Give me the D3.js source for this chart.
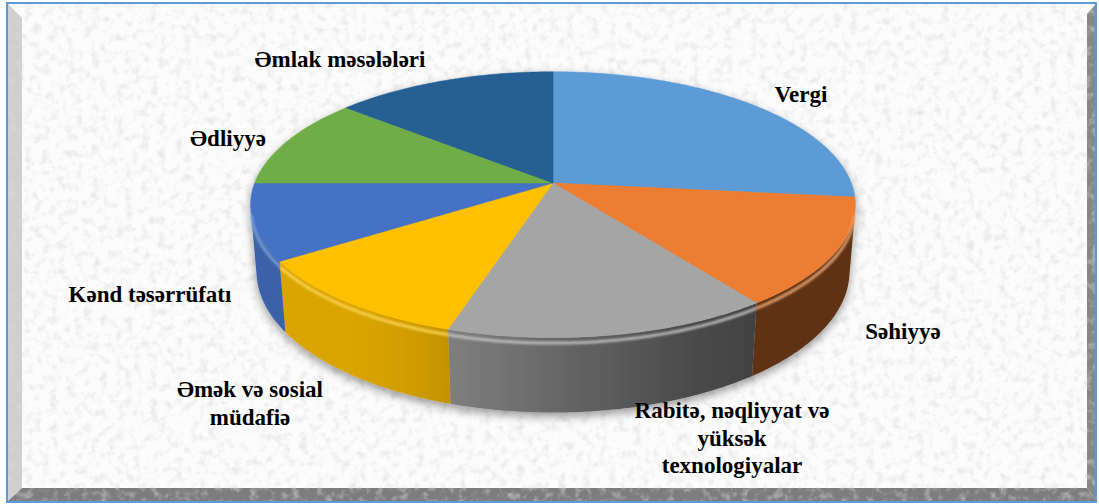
<!DOCTYPE html>
<html>
<head>
<meta charset="utf-8">
<script src="https://cdn.jsdelivr.net/npm/d3@7"></script>
<style>
  body { margin: 0; background: #fff; }
</style>
</head>
<body>
<svg id="chart" width="1099" height="504"></svg>
<script>
// chart data (share of appeals by topic)
const categories = ["Vergi", "Səhiyyə", "Rabitə, nəqliyyat və yüksək texnologiyalar",
    "Əmək və sosial müdafiə", "Kənd təsərrüfatı", "Ədliyyə", "Əmlak məsələləri"];
const values = [26.7, 13.2, 14.9, 10.9, 9.3, 11.1, 13.9];
const colors = ["#5B9BD5", "#ED7D31", "#A5A5A5", "#FFC000", "#4472C4", "#70AD47", "#255E91"];
const labelLines = [["Vergi"], ["Səhiyyə"], ["Rabitə, nəqliyyat və", "yüksək", "texnologiyalar"],
    ["Əmək və sosial", "müdafiə"], ["Kənd təsərrüfatı"], ["Ədliyyə"], ["Əmlak məsələləri"]];

// label anchors (layout only)
const labelPos = [[801, 102], [903, 339], [732, 418], [250, 397], [150, 302], [228, 146], [340, 67]];

const svg = d3.select("#chart");
const defs = svg.append("defs");

// paper texture
let tex = defs.append("filter").attr("id", "tex")
    .attr("x", 0).attr("y", 0).attr("width", "100%").attr("height", "100%");
tex.append("feTurbulence").attr("type", "fractalNoise").attr("baseFrequency", "0.12")
    .attr("numOctaves", 3).attr("seed", 4).attr("result", "n");
tex.append("feColorMatrix").attr("in", "n").attr("type", "matrix")
    .attr("values", "0 0 0 0 0.7  0 0 0 0 0.7  0 0 0 0 0.7  1.5 0 0 0 -0.72");

let shadow = defs.append("filter").attr("id", "shadow")
    .attr("x", "-10%").attr("y", "-10%").attr("width", "120%").attr("height", "130%");
shadow.append("feDropShadow").attr("dx", 0).attr("dy", 4).attr("stdDeviation", 5)
    .attr("flood-color", "#000").attr("flood-opacity", 0.4);

let blur = defs.append("filter").attr("id", "soft");
blur.append("feGaussianBlur").attr("stdDeviation", 1.2);

// frame with bevel
svg.append("rect").attr("x", 7).attr("y", 3).attr("width", 1089).attr("height", 499).attr("fill", "#fcfcfc");
svg.append("polygon").attr("points", "8,4 22,18 22,488 8,501").attr("fill", "#cfcfcf");
svg.append("polygon").attr("points", "8,501 22,488 1087,488 1096,501").attr("fill", "#7d7d7d");
svg.append("polygon").attr("points", "1096,4 1087,14 1087,488 1096,501").attr("fill", "#878787");
svg.append("rect").attr("x", 7).attr("y", 3).attr("width", 1089).attr("height", 499)
    .attr("filter", "url(#tex)");
svg.append("rect").attr("x", 7).attr("y", 3).attr("width", 1089).attr("height", 499)
    .attr("fill", "none").attr("stroke", "#5B9BD5").attr("stroke-width", 2);

// perspective projection of the pie disk
const cx = 553, cy = 183;
const sinE = 0.4337, cosE = Math.sqrt(1 - sinE * sinE);
const D = 5.53, F = 1650, depthH = 0.25;

function project(theta, z) {
    let x = Math.sin(theta), y = Math.cos(theta);
    let depth = y * cosE - z * sinE + D;
    return [cx + F * x / depth, cy - F * (y * sinE + z * cosE) / depth];
}

function arcPoints(a0, a1, z) {
    let n = Math.max(2, Math.ceil(Math.abs(a1 - a0) / (Math.PI / 360)));
    return d3.range(n + 1).map(i => project(a0 + (a1 - a0) * i / n, z));
}

// side shading: darker towards the right
function shade(theta) {
    let deg = theta * 180 / Math.PI;
    let t = Math.max(0, Math.min(1, (deg - 140) / 80));
    t = t * t * (3 - 2 * t);
    return 0.4 + 0.46 * t;
}

const pie = d3.pie().sort(null).value(d => d)(values);
const line = d3.line();
const g = svg.append("g").attr("filter", "url(#shadow)");

// visible part of the outer wall
const vis = Math.acos(-1 / (D * cosE));
const wMin = vis, wMax = 2 * Math.PI - vis;

pie.forEach((s, i) => {
    let t0 = Math.max(s.startAngle, wMin), t1 = Math.min(s.endAngle, wMax);
    if (t1 <= t0) return;
    let top = arcPoints(t0, t1, 0);
    let bot = arcPoints(t1, t0, -depthH);
    let xa = top[0][0], xb = top[top.length - 1][0];
    let grad = defs.append("linearGradient").attr("id", "side" + i)
        .attr("gradientUnits", "userSpaceOnUse")
        .attr("x1", xa).attr("x2", xb).attr("y1", 0).attr("y2", 0);
    d3.range(11).forEach(k => {
        let th = t0 + (t1 - t0) * k / 10;
        let px = project(th, 0)[0];
        let c = d3.rgb(colors[i]);
        let f = shade(th);
        grad.append("stop").attr("offset", (px - xa) / (xb - xa))
            .attr("stop-color", d3.rgb(c.r * f, c.g * f, c.b * f));
    });
    g.append("path").attr("d", line(top.concat(bot)) + "Z")
        .attr("fill", "url(#side" + i + ")");
});

// top faces
pie.forEach((s, i) => {
    let pts = [[cx, cy]].concat(arcPoints(s.startAngle, s.endAngle, 0));
    g.append("path").attr("d", line(pts) + "Z")
        .attr("fill", colors[i]).attr("stroke", colors[i]).attr("stroke-width", 0.5);
});

// rounded rim highlight on the front edge
pie.forEach((s, i) => {
    let t0 = Math.max(s.startAngle, wMin), t1 = Math.min(s.endAngle, wMax);
    if (t1 <= t0) return;
    g.append("path").attr("d", line(arcPoints(t0, t1, -0.018)))
        .attr("fill", "none").attr("filter", "url(#soft)")
        .attr("stroke", d3.interpolateRgb(colors[i], "#fff")(0.35))
        .attr("stroke-width", 3).attr("stroke-opacity", 0.85);
});

// labels
const lh = 27.5;
labelLines.forEach((lines, i) => {
    let t = svg.append("text").attr("text-anchor", "middle")
        .attr("font-family", "'Liberation Serif', 'DejaVu Serif', serif")
        .attr("font-weight", "bold")
        .attr("font-size", 23).attr("fill", "#000");
    lines.forEach((l, k) => {
        t.append("tspan").attr("x", labelPos[i][0]).attr("y", labelPos[i][1] + k * lh).text(l);
    });
});
</script>
</body>
</html>
